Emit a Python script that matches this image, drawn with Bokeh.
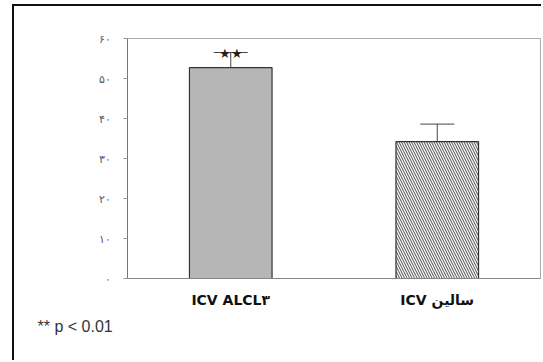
from bokeh.plotting import figure
from bokeh.models import ColumnDataSource, Whisker, TeeHead, Title, FixedTicker
from bokeh.embed import file_html
from bokeh.resources import INLINE

# ---- data ----
groups = ["ICV ALCL۳", "ICV سالین"]
means = [52.7, 34.2]
errors = [3.8, 4.4]
significance = ["★★", ""]
bar_fills = ["#b6b6b6", "#ffffff"]
bar_hatches = [" ", "\\"]
y_ticks = [0, 10, 20, 30, 40, 50, 60]
y_tick_labels = ["۰", "۱۰", "۲۰", "۳۰", "۴۰", "۵۰", "۶۰"]
footnote = "** p < 0.01"

src = ColumnDataSource(dict(
    group=groups,
    mean=means,
    upper=[m + e for m, e in zip(means, errors)],
    sig=significance,
    fill=bar_fills,
    hatch=bar_hatches,
))

p = figure(
    x_range=groups, y_range=(0, 60),
    width=529, height=356,
    output_backend="svg", toolbar_location=None,
    min_border_left=113, min_border_right=3,
    min_border_top=32, min_border_bottom=84,
    background_fill_color="white", border_fill_color="white",
)
p.styles = {
    "border-left": "2px solid #111",
    "border-top": "2px solid #111",
    "margin-left": "12px",
    "margin-top": "4px",
}

p.vbar(x="group", top="mean", width=0.4, source=src,
       fill_color="fill", line_color="#333333", line_width=1.2,
       hatch_pattern="hatch", hatch_color="#666666",
       hatch_scale=5, hatch_weight=1.1)

p.add_layout(Whisker(base="group", upper="upper", lower="mean", source=src,
                     line_color="#444444", line_width=1,
                     upper_head=TeeHead(size=34, line_color="#444444", line_width=1),
                     lower_head=None))

p.text(x="group", y="upper", text="sig", source=src,
       text_align="center", text_baseline="alphabetic", y_offset=1,
       text_font_size="13px", text_color="#222222")

p.add_layout(Title(text=footnote, align="left", offset=-90, standoff=10,
                   text_font="Liberation Sans", text_font_style="normal",
                   text_font_size="16px", text_color="#333333"), "below")

p.xgrid.grid_line_color = None
p.ygrid.grid_line_color = None
p.outline_line_color = "#aaaaaa"
p.outline_line_width = 1

p.yaxis.ticker = FixedTicker(ticks=y_ticks)
p.yaxis.major_label_overrides = {t: l for t, l in zip(y_ticks, y_tick_labels)}
p.yaxis.minor_tick_line_color = None
p.yaxis.major_tick_in = 0
p.yaxis.major_tick_out = 4
p.yaxis.major_label_standoff = 13
p.yaxis.major_label_text_font_size = "11px"
p.yaxis.major_label_text_color = "#555555"
p.yaxis.axis_line_color = "#777777"
p.yaxis.major_tick_line_color = "#999999"

p.xaxis.axis_line_color = "#888888"
p.xaxis.major_tick_line_color = None
p.xaxis.major_label_standoff = 7
p.xaxis.major_label_text_font = "DejaVu Sans"
p.xaxis.major_label_text_font_style = "bold"
p.xaxis.major_label_text_font_size = "14px"
p.xaxis.major_label_text_color = "#111111"

open("out.html", "w").write(file_html(p, INLINE))
